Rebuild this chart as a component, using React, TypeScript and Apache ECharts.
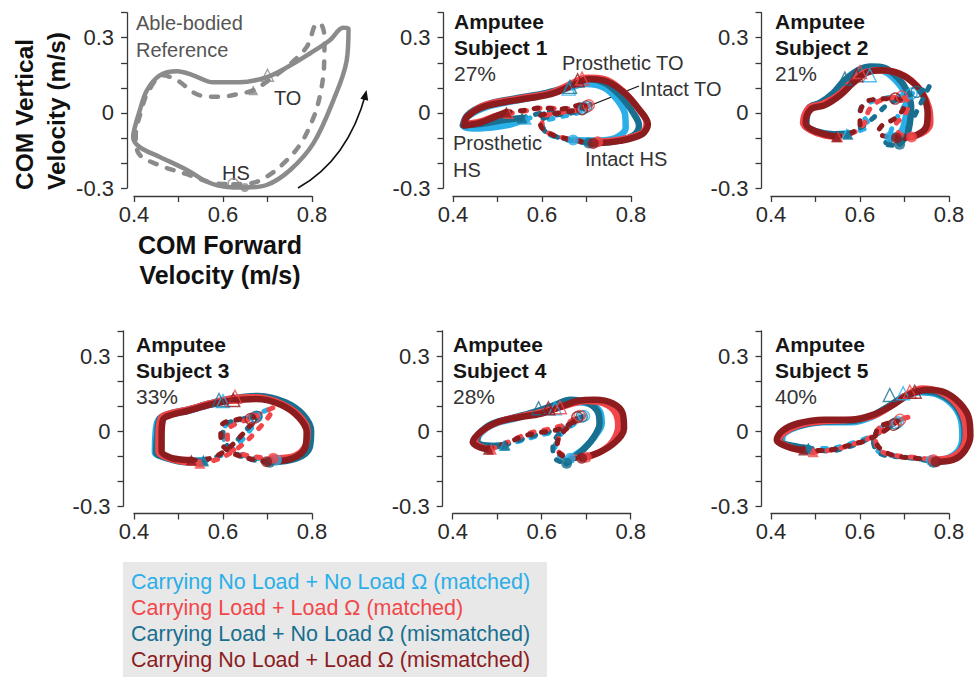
import React, { useEffect, useRef } from 'react';
import * as echarts from 'echarts';

// ---------- tick labels ----------
const xTickLabels = ['0.4', '0.6', '0.8'];
const yTickLabels = ['-0.3', '0', '0.3'];

// ---------- conditions (legend order) ----------
const conditionNames = [
  'Carrying No Load + No Load \u03A9 (matched)',
  'Carrying Load + Load \u03A9 (matched)',
  'Carrying Load + No Load \u03A9 (mismatched)',
  'Carrying No Load + Load \u03A9 (mismatched)',
];
const conditionColors = ['#2aafe8', '#f2474a', '#186f8f', '#8c1c1e'];
const drawOrder = [0, 2, 1, 3];

const subjectTitles = ['Subject 1', 'Subject 2', 'Subject 3', 'Subject 4', 'Subject 5'];
const subjectPercents = ['27%', '21%', '33%', '28%', '40%'];

// ---------- able-bodied reference ----------
const abSolid = [[0.649,-0.298],[0.698,-0.288],[0.751,-0.228],[0.803,-0.122],[0.848,0.05],[0.878,0.21],[0.882,0.336],[0.87,0.34],[0.84,0.29],[0.796,0.238],[0.744,0.182],[0.697,0.142],[0.638,0.122],[0.578,0.122],[0.533,0.15],[0.497,0.166],[0.458,0.15],[0.429,0.09],[0.413,0.01],[0.402,-0.057],[0.398,-0.097],[0.413,-0.137],[0.458,-0.176],[0.519,-0.228],[0.564,-0.275],[0.609,-0.296],[0.649,-0.298]];
const abDashed = [[0.623,-0.285],[0.668,-0.279],[0.698,-0.255],[0.736,-0.202],[0.775,-0.122],[0.804,-0.016],[0.818,0.07],[0.827,0.183],[0.828,0.3],[0.822,0.35],[0.812,0.357],[0.788,0.263],[0.743,0.183],[0.698,0.124],[0.668,0.09],[0.638,0.077],[0.593,0.064],[0.548,0.07],[0.497,0.13],[0.465,0.15],[0.432,0.085],[0.415,0.0],[0.404,-0.09],[0.41,-0.161],[0.451,-0.205],[0.519,-0.245],[0.578,-0.28],[0.623,-0.285]];
const abToOpen = [[0.7, 0.15]];
const abToFilled = [[0.668, 0.09]];
const abHsOpen = [[0.623, -0.282]];
const abHsFilled = [[0.649, -0.298]];

// ---------- subject 1 (order: LB, R, T, DR) ----------
const s1Solid = [
  [[0.67,-0.108],[0.72,-0.11],[0.765,-0.1],[0.788,-0.06],[0.787,-0.01],[0.77,0.05],[0.74,0.1],[0.7,0.115],[0.66,0.1],[0.6,0.07],[0.53,0.045],[0.47,0.02],[0.43,-0.02],[0.425,-0.055],[0.46,-0.062],[0.52,-0.05],[0.565,-0.025]],
  [[0.725,-0.115],[0.78,-0.105],[0.825,-0.08],[0.835,-0.04],[0.815,0.02],[0.78,0.09],[0.74,0.135],[0.7,0.14],[0.67,0.12],[0.62,0.08],[0.54,0.055],[0.47,0.03],[0.432,-0.015],[0.425,-0.045],[0.46,-0.035],[0.5,-0.01],[0.525,-0.003]],
  [[0.705,-0.12],[0.76,-0.115],[0.805,-0.09],[0.818,-0.05],[0.805,0.0],[0.775,0.07],[0.74,0.12],[0.7,0.135],[0.665,0.11],[0.61,0.08],[0.53,0.055],[0.47,0.03],[0.432,-0.01],[0.422,-0.05],[0.46,-0.045],[0.51,-0.03],[0.555,-0.02]],
  [[0.715,-0.122],[0.775,-0.112],[0.825,-0.085],[0.838,-0.045],[0.82,0.01],[0.785,0.08],[0.745,0.125],[0.705,0.135],[0.675,0.115],[0.62,0.075],[0.54,0.05],[0.47,0.025],[0.432,-0.015],[0.425,-0.05],[0.46,-0.04],[0.495,-0.015],[0.52,0.003]],
];
const s1Dashed = [
  [[0.565,-0.025],[0.6,-0.005],[0.64,0.0],[0.68,0.015],[0.7,0.025],[0.68,0.0],[0.63,-0.02],[0.6,-0.04],[0.61,-0.08],[0.64,-0.1],[0.67,-0.108]],
  [[0.525,-0.003],[0.57,0.01],[0.61,0.02],[0.65,0.015],[0.69,0.03],[0.71,0.035],[0.69,0.015],[0.64,0.0],[0.6,-0.02],[0.6,-0.06],[0.63,-0.09],[0.68,-0.11],[0.725,-0.115]],
  [[0.555,-0.02],[0.6,0.0],[0.64,0.01],[0.68,0.02],[0.705,0.03],[0.68,0.005],[0.63,-0.01],[0.6,-0.03],[0.605,-0.07],[0.64,-0.1],[0.68,-0.115],[0.705,-0.12]],
  [[0.52,0.003],[0.56,0.01],[0.6,0.02],[0.64,0.015],[0.68,0.03],[0.7,0.04],[0.685,0.015],[0.64,0.0],[0.595,-0.015],[0.598,-0.055],[0.62,-0.085],[0.66,-0.105],[0.715,-0.122]],
];
const s1ToProst = [[0.66,0.097],[0.69,0.137],[0.663,0.104],[0.68,0.13]];
const s1ToIntact = [[0.695,0.02],[0.705,0.03],[0.7,0.025],[0.69,0.015]];
const s1HsProst = [[0.565,-0.025],[0.525,-0.003],[0.555,-0.02],[0.52,0.003]];
const s1HsIntact = [[0.67,-0.108],[0.725,-0.115],[0.705,-0.12],[0.715,-0.122]];

// ---------- subject 2 ----------
const s2Solid = [
  [[0.667,-0.096],[0.69,-0.08],[0.7,-0.04],[0.705,0.02],[0.7,0.08],[0.68,0.13],[0.655,0.165],[0.625,0.175],[0.595,0.16],[0.57,0.12],[0.545,0.07],[0.51,0.035],[0.485,0.015],[0.48,-0.05],[0.505,-0.075],[0.54,-0.085],[0.57,-0.082]],
  [[0.716,-0.096],[0.745,-0.075],[0.758,-0.04],[0.755,0.02],[0.74,0.08],[0.715,0.13],[0.685,0.16],[0.645,0.17],[0.61,0.16],[0.58,0.12],[0.55,0.07],[0.515,0.035],[0.485,0.02],[0.472,-0.04],[0.49,-0.07],[0.52,-0.09],[0.55,-0.095]],
  [[0.689,-0.122],[0.705,-0.09],[0.712,-0.04],[0.715,0.02],[0.705,0.09],[0.685,0.14],[0.655,0.18],[0.625,0.185],[0.595,0.17],[0.565,0.13],[0.54,0.08],[0.51,0.04],[0.485,0.02],[0.475,-0.045],[0.5,-0.075],[0.54,-0.085],[0.573,-0.085]],
  [[0.682,-0.1],[0.725,-0.09],[0.75,-0.05],[0.752,0.0],[0.742,0.07],[0.72,0.12],[0.69,0.155],[0.65,0.17],[0.615,0.16],[0.585,0.12],[0.555,0.07],[0.52,0.03],[0.49,0.015],[0.478,-0.04],[0.49,-0.065],[0.52,-0.085],[0.547,-0.095]],
];
const s2Dashed = [
  [[0.57,-0.082],[0.6,-0.07],[0.62,-0.05],[0.61,-0.02],[0.6,0.01],[0.62,0.04],[0.66,0.06],[0.7,0.07],[0.718,0.078],[0.7,0.03],[0.68,-0.03],[0.67,-0.07],[0.667,-0.096]],
  [[0.55,-0.095],[0.59,-0.075],[0.61,-0.04],[0.62,0.01],[0.64,0.045],[0.67,0.06],[0.69,0.065],[0.71,0.04],[0.7,-0.01],[0.68,-0.05],[0.69,-0.085],[0.716,-0.096]],
  [[0.573,-0.085],[0.6,-0.06],[0.63,-0.02],[0.66,0.03],[0.7,0.065],[0.735,0.085],[0.757,0.11],[0.74,0.05],[0.72,-0.02],[0.7,-0.08],[0.68,-0.11],[0.65,-0.122],[0.689,-0.132]],
  [[0.547,-0.095],[0.58,-0.08],[0.6,-0.05],[0.6,-0.01],[0.61,0.04],[0.64,0.055],[0.68,0.057],[0.7,0.03],[0.68,-0.02],[0.65,-0.05],[0.64,-0.08],[0.66,-0.095],[0.682,-0.1]],
];
const s2ToProst = [[0.622,0.15],[0.6,0.163],[0.566,0.137],[0.592,0.15]];
const s2ToIntact = [[0.716,0.077],[0.694,0.065],[0.727,0.084],[0.679,0.057]];
const s2HsProst = [[0.57,-0.082],[0.55,-0.095],[0.573,-0.085],[0.547,-0.095]];
const s2HsIntact = [[0.667,-0.096],[0.716,-0.096],[0.689,-0.125],[0.682,-0.1]];

// ---------- subject 3 ----------
const s3Solid = [
  [[0.72,-0.116],[0.765,-0.1],[0.79,-0.06],[0.793,0.0],[0.775,0.06],[0.735,0.11],[0.68,0.13],[0.62,0.125],[0.57,0.105],[0.52,0.08],[0.48,0.065],[0.455,0.045],[0.448,-0.02],[0.447,-0.085],[0.47,-0.105],[0.51,-0.12],[0.556,-0.116]],
  [[0.713,-0.109],[0.76,-0.1],[0.785,-0.06],[0.79,0.0],[0.772,0.06],[0.73,0.11],[0.675,0.135],[0.62,0.13],[0.57,0.11],[0.52,0.085],[0.48,0.07],[0.46,0.05],[0.455,-0.02],[0.455,-0.08],[0.48,-0.11],[0.52,-0.125],[0.548,-0.129]],
  [[0.705,-0.125],[0.765,-0.11],[0.795,-0.065],[0.798,0.0],[0.78,0.065],[0.74,0.115],[0.68,0.14],[0.62,0.13],[0.57,0.11],[0.52,0.085],[0.48,0.07],[0.458,0.05],[0.452,-0.02],[0.45,-0.085],[0.475,-0.11],[0.52,-0.125],[0.556,-0.12]],
  [[0.698,-0.123],[0.755,-0.11],[0.785,-0.065],[0.788,-0.005],[0.77,0.055],[0.73,0.105],[0.675,0.128],[0.62,0.122],[0.57,0.105],[0.52,0.08],[0.485,0.065],[0.465,0.045],[0.462,-0.02],[0.462,-0.08],[0.48,-0.105],[0.51,-0.115],[0.529,-0.116]],
];
const s3Dashed = [
  [[0.556,-0.116],[0.6,-0.095],[0.63,-0.06],[0.655,-0.01],[0.68,0.05],[0.7,0.085],[0.68,0.07],[0.65,0.05],[0.615,0.035],[0.6,0.0],[0.61,-0.06],[0.65,-0.1],[0.72,-0.116]],
  [[0.548,-0.129],[0.585,-0.115],[0.62,-0.085],[0.65,-0.045],[0.675,0.0],[0.7,0.05],[0.715,0.095],[0.69,0.075],[0.665,0.05],[0.63,0.03],[0.61,0.0],[0.61,-0.05],[0.64,-0.09],[0.68,-0.105],[0.713,-0.109]],
  [[0.556,-0.12],[0.59,-0.1],[0.62,-0.06],[0.645,-0.01],[0.67,0.04],[0.69,0.075],[0.67,0.065],[0.64,0.045],[0.61,0.03],[0.6,-0.01],[0.61,-0.06],[0.64,-0.1],[0.68,-0.12],[0.705,-0.125]],
  [[0.529,-0.116],[0.57,-0.11],[0.6,-0.085],[0.63,-0.04],[0.655,0.01],[0.675,0.05],[0.66,0.055],[0.63,0.045],[0.6,0.03],[0.595,-0.01],[0.6,-0.06],[0.63,-0.095],[0.67,-0.115],[0.698,-0.123]],
];
const s3ToProst = [[0.6,0.12],[0.627,0.137],[0.591,0.124],[0.623,0.124]];
const s3ToIntact = [[0.672,0.055],[0.668,0.05],[0.675,0.057],[0.662,0.048]];
const s3HsProst = [[0.556,-0.116],[0.548,-0.129],[0.556,-0.12],[0.529,-0.116]];
const s3HsIntact = [[0.72,-0.116],[0.713,-0.109],[0.705,-0.125],[0.698,-0.123]];

// ---------- subject 4 ----------
const s4Solid = [
  [[0.664,-0.109],[0.695,-0.07],[0.72,-0.02],[0.735,0.03],[0.73,0.08],[0.705,0.11],[0.67,0.115],[0.635,0.1],[0.59,0.075],[0.54,0.05],[0.49,0.025],[0.462,-0.01],[0.455,-0.045],[0.49,-0.06],[0.515,-0.058]],
  [[0.7,-0.105],[0.735,-0.08],[0.76,-0.04],[0.772,0.02],[0.765,0.075],[0.74,0.11],[0.7,0.12],[0.66,0.105],[0.62,0.085],[0.57,0.065],[0.51,0.04],[0.47,0.005],[0.45,-0.04],[0.465,-0.065],[0.487,-0.073]],
  [[0.656,-0.129],[0.69,-0.08],[0.715,-0.03],[0.73,0.03],[0.725,0.08],[0.7,0.115],[0.665,0.125],[0.63,0.105],[0.59,0.08],[0.54,0.055],[0.49,0.03],[0.46,-0.01],[0.455,-0.045],[0.49,-0.06],[0.518,-0.056]],
  [[0.69,-0.109],[0.73,-0.085],[0.765,-0.045],[0.785,0.01],[0.782,0.07],[0.76,0.11],[0.72,0.125],[0.68,0.12],[0.64,0.095],[0.6,0.07],[0.55,0.055],[0.5,0.035],[0.465,0.0],[0.445,-0.045],[0.46,-0.065],[0.48,-0.073]],
];
const s4Dashed = [
  [[0.515,-0.058],[0.56,-0.035],[0.6,-0.015],[0.635,0.0],[0.665,0.035],[0.695,0.06],[0.67,0.025],[0.64,-0.02],[0.63,-0.07],[0.64,-0.1],[0.664,-0.109]],
  [[0.487,-0.073],[0.53,-0.04],[0.57,-0.01],[0.61,0.005],[0.65,0.025],[0.675,0.05],[0.685,0.06],[0.665,0.025],[0.64,-0.02],[0.635,-0.07],[0.655,-0.1],[0.7,-0.105]],
  [[0.518,-0.056],[0.56,-0.03],[0.6,-0.01],[0.64,0.01],[0.67,0.04],[0.69,0.06],[0.67,0.03],[0.64,-0.01],[0.625,-0.06],[0.63,-0.11],[0.656,-0.129]],
  [[0.48,-0.073],[0.52,-0.05],[0.56,-0.02],[0.6,-0.005],[0.635,0.005],[0.665,0.03],[0.68,0.055],[0.67,0.03],[0.645,-0.01],[0.635,-0.05],[0.64,-0.09],[0.665,-0.11],[0.69,-0.109]],
];
const s4ToProst = [[0.63,0.091],[0.641,0.095],[0.593,0.091],[0.615,0.091]];
const s4ToIntact = [[0.695,0.06],[0.685,0.06],[0.69,0.058],[0.68,0.055]];
const s4HsProst = [[0.515,-0.058],[0.487,-0.073],[0.518,-0.056],[0.48,-0.073]];
const s4HsIntact = [[0.664,-0.109],[0.7,-0.105],[0.656,-0.129],[0.69,-0.109]];

// ---------- subject 5 ----------
const s5Solid = [
  [[0.76,-0.118],[0.795,-0.11],[0.822,-0.075],[0.83,-0.02],[0.826,0.05],[0.805,0.11],[0.77,0.148],[0.735,0.155],[0.7,0.135],[0.665,0.095],[0.625,0.055],[0.58,0.035],[0.52,0.035],[0.465,0.02],[0.43,-0.01],[0.425,-0.04],[0.455,-0.065],[0.484,-0.069]],
  [[0.765,-0.115],[0.805,-0.105],[0.83,-0.07],[0.838,-0.01],[0.832,0.06],[0.81,0.12],[0.775,0.16],[0.74,0.17],[0.71,0.15],[0.67,0.1],[0.63,0.06],[0.58,0.045],[0.52,0.04],[0.465,0.025],[0.43,-0.005],[0.418,-0.035],[0.45,-0.07],[0.495,-0.083]],
  [[0.765,-0.125],[0.8,-0.115],[0.825,-0.08],[0.835,-0.02],[0.83,0.05],[0.81,0.11],[0.775,0.15],[0.735,0.16],[0.7,0.14],[0.665,0.1],[0.625,0.06],[0.58,0.04],[0.52,0.038],[0.46,0.02],[0.425,-0.01],[0.42,-0.04],[0.45,-0.06],[0.484,-0.069]],
  [[0.771,-0.123],[0.81,-0.115],[0.835,-0.08],[0.848,-0.02],[0.845,0.05],[0.825,0.11],[0.79,0.155],[0.75,0.165],[0.71,0.145],[0.67,0.1],[0.63,0.065],[0.58,0.045],[0.52,0.045],[0.46,0.03],[0.425,0.0],[0.413,-0.035],[0.44,-0.065],[0.473,-0.076]],
];
const s5Dashed = [
  [[0.484,-0.069],[0.53,-0.07],[0.58,-0.05],[0.62,-0.025],[0.655,0.01],[0.685,0.035],[0.665,0.025],[0.64,0.005],[0.63,-0.03],[0.64,-0.08],[0.68,-0.1],[0.73,-0.11],[0.76,-0.118]],
  [[0.495,-0.083],[0.54,-0.075],[0.59,-0.05],[0.63,-0.02],[0.665,0.02],[0.69,0.045],[0.715,0.058],[0.68,0.04],[0.645,0.015],[0.635,-0.02],[0.64,-0.07],[0.67,-0.095],[0.72,-0.105],[0.765,-0.115]],
  [[0.484,-0.069],[0.53,-0.08],[0.58,-0.06],[0.62,-0.03],[0.655,0.005],[0.68,0.03],[0.66,0.02],[0.64,0.0],[0.63,-0.04],[0.645,-0.09],[0.7,-0.105],[0.74,-0.115],[0.765,-0.125]],
  [[0.473,-0.076],[0.52,-0.078],[0.57,-0.06],[0.61,-0.04],[0.645,-0.01],[0.675,0.025],[0.685,0.04],[0.66,0.03],[0.64,0.01],[0.635,-0.03],[0.645,-0.07],[0.68,-0.1],[0.73,-0.11],[0.771,-0.123]],
];
const s5ToProst = [[0.697,0.151],[0.712,0.157],[0.667,0.144],[0.723,0.157]];
const s5ToIntact = [[0.685,0.035],[0.69,0.045],[0.68,0.03],[0.675,0.025]];
const s5HsProst = [[0.484,-0.069],[0.495,-0.083],[0.484,-0.069],[0.473,-0.076]];
const s5HsIntact = [[0.76,-0.118],[0.765,-0.115],[0.765,-0.125],[0.771,-0.123]];

const subjects = [
  { solid: s1Solid, dashed: s1Dashed, toP: s1ToProst, toI: s1ToIntact, hsP: s1HsProst, hsI: s1HsIntact },
  { solid: s2Solid, dashed: s2Dashed, toP: s2ToProst, toI: s2ToIntact, hsP: s2HsProst, hsI: s2HsIntact },
  { solid: s3Solid, dashed: s3Dashed, toP: s3ToProst, toI: s3ToIntact, hsP: s3HsProst, hsI: s3HsIntact },
  { solid: s4Solid, dashed: s4Dashed, toP: s4ToProst, toI: s4ToIntact, hsP: s4HsProst, hsI: s4HsIntact },
  { solid: s5Solid, dashed: s5Dashed, toP: s5ToProst, toI: s5ToIntact, hsP: s5HsProst, hsI: s5HsIntact },
];

const FONT = '"Liberation Sans", Arial, Helvetica, sans-serif';
const GRAY = '#8b8b8b';
const AXIS = '#3a3a3a';
const PXU_X = 445; // px per unit on x (178 px for 0.4)

const panels = [
  { left: 134, top: 12.7, height: 175.3, yOff: 7, xOff: 8, dataXMax: 0.9 },
  { left: 453, top: 12.7, height: 175.3, yOff: 9.5, xOff: 8, dataXMax: 0.9 },
  { left: 771, top: 12.7, height: 175.3, yOff: 9.5, xOff: 8, dataXMax: 0.85 },
  { left: 134, top: 331, height: 175, yOff: 10.5, xOff: 7.5, dataXMax: 0.9 },
  { left: 452.7, top: 331, height: 175, yOff: 10, xOff: 7.5, dataXMax: 0.9 },
  { left: 771, top: 331, height: 175, yOff: 9.5, xOff: 7.5, dataXMax: 0.85 },
];
const DATA_XMIN = 0.35;
const DATA_YMIN = -0.35;
const DATA_YMAX = 0.4;

function fmt(v: number, list: string[]) {
  const s = String(Math.round(v * 10) / 10);
  const t = s === '-0' ? '0' : s;
  return list.includes(t) ? t : '';
}

function buildOption() {
  const grid: any[] = [];
  const xAxis: any[] = [];
  const yAxis: any[] = [];
  const series: any[] = [];
  const N = panels.length;

  panels.forEach((p, i) => {
    grid.push({ left: p.left, top: p.top, width: 178, height: p.height, containLabel: false });
    xAxis.push({
      type: 'value', gridIndex: i, min: 0.4, max: 0.8, interval: 0.1, offset: p.xOff,
      axisLine: { show: true, onZero: false, lineStyle: { color: AXIS, width: 1.3 } },
      axisTick: { show: true, inside: false, length: 6, lineStyle: { color: AXIS, width: 1.3 } },
      splitLine: { show: false },
      axisLabel: { margin: 7, fontSize: 22, color: '#2a2a2a', fontFamily: FONT, formatter: (v: number) => fmt(v, xTickLabels) },
    });
    yAxis.push({
      type: 'value', gridIndex: i, min: -0.3, max: 0.4, interval: 0.1, offset: p.yOff,
      axisLine: { show: true, onZero: false, lineStyle: { color: AXIS, width: 1.3 } },
      axisTick: { show: true, inside: false, length: 6, lineStyle: { color: AXIS, width: 1.3 } },
      splitLine: { show: false },
      axisLabel: { margin: 13, fontSize: 22, color: '#2a2a2a', fontFamily: FONT, formatter: (v: number) => fmt(v, yTickLabels) },
    });
  });
  // hidden data grids with identical scale but a wider extent (nothing gets clipped)
  panels.forEach((p, i) => {
    const pyu = p.height / 0.7;
    grid.push({
      left: p.left - (0.4 - DATA_XMIN) * PXU_X,
      top: p.top - (DATA_YMAX - 0.4) * pyu,
      width: (p.dataXMax - DATA_XMIN) * PXU_X,
      height: (DATA_YMAX - DATA_YMIN) * pyu,
      containLabel: false,
    });
    xAxis.push({ type: 'value', gridIndex: N + i, min: DATA_XMIN, max: p.dataXMax, show: false, splitLine: { show: false } });
    yAxis.push({ type: 'value', gridIndex: N + i, min: DATA_YMIN, max: DATA_YMAX, show: false, splitLine: { show: false } });
  });

  const lineS = (gi: number, data: number[][], color: string, dashed: boolean, width: number, dash: number[]) => ({
    type: 'line', xAxisIndex: N + gi, yAxisIndex: N + gi, data, smooth: 0.35, showSymbol: false, symbol: 'none', clip: false,
    lineStyle: { color, width, type: dashed ? dash : 'solid', cap: 'round', join: 'round' },
    silent: true, z: 2,
  });
  const markS = (gi: number, data: number[][], color: string, symbol: string, size: number, hollow: boolean) => ({
    type: 'scatter', xAxisIndex: N + gi, yAxisIndex: N + gi, data, symbol, symbolSize: size, clip: false,
    itemStyle: hollow ? { color: 'rgba(0,0,0,0)', borderColor: color, borderWidth: 1.4 } : { color },
    silent: true, z: 3,
  });

  series.push(lineS(0, abSolid, GRAY, false, 4.5, []));
  series.push(lineS(0, abDashed, GRAY, true, 4.5, [7, 11]));
  series.push(markS(0, abToOpen, GRAY, 'triangle', 12, true));
  series.push(markS(0, abToFilled, GRAY, 'triangle', 10, false));
  series.push(markS(0, abHsOpen, GRAY, 'circle', 10, true));
  series.push(markS(0, abHsFilled, GRAY, 'circle', 9, false));

  subjects.forEach((s, k) => {
    const gi = k + 1;
    drawOrder.forEach((c) => {
      series.push(lineS(gi, s.solid[c], conditionColors[c], false, 6.5, []));
    });
    drawOrder.forEach((c) => {
      series.push(lineS(gi, s.dashed[c], conditionColors[c], true, 5, [4, 10]));
    });
    drawOrder.forEach((c) => {
      series.push(markS(gi, [s.hsI[c]], conditionColors[c], 'circle', 11, false));
      series.push(markS(gi, [s.hsP[c]], conditionColors[c], 'triangle', 11, false));
      series.push(markS(gi, [s.toP[c]], conditionColors[c], 'triangle', 13, true));
      series.push(markS(gi, [s.toI[c]], conditionColors[c], 'circle', 11, true));
    });
  });

  const txt = (x: number, y: number, text: string, opts: any = {}) => ({
    type: 'text', x, y, silent: true,
    style: { text, fontSize: 20, fontFamily: FONT, fill: '#333', textAlign: 'left', textVerticalAlign: 'top', lineHeight: 26, ...opts },
  });

  const graphic: any[] = [];
  graphic.push(txt(136, 9, 'Able-bodied\nReference', { fill: '#555', lineHeight: 27 }));
  graphic.push(txt(274, 85, 'TO', { fill: '#333' }));
  graphic.push(txt(222, 160, 'HS', { fill: '#333' }));
  graphic.push({ type: 'bezierCurve', silent: true, shape: { x1: 298, y1: 188, x2: 366, y2: 93, cpx1: 348, cpy1: 160 }, style: { stroke: '#111', lineWidth: 1.6, fill: 'none' } });
  graphic.push({ type: 'polygon', silent: true, shape: { points: [[366.5, 90], [368.2, 100.7], [360.4, 98.7]] }, style: { fill: '#111' } });
  graphic.push({ type: 'text', x: 8, y: 190, rotation: Math.PI / 2, silent: true,
    style: { text: 'COM Vertical\nVelocity (m/s)', fontSize: 24.5, fontWeight: 'bold', fontFamily: FONT, fill: '#111', textAlign: 'left', textVerticalAlign: 'top', lineHeight: 32 } });
  graphic.push({ type: 'text', x: 220, y: 230, silent: true,
    style: { text: 'COM Forward\nVelocity (m/s)', fontSize: 25, fontWeight: 'bold', fontFamily: FONT, fill: '#111', textAlign: 'center', textVerticalAlign: 'top', lineHeight: 30 } });

  const titlePos = [[454, 8], [775, 8], [136, 331], [453, 331], [775, 331]];
  subjects.forEach((_, k) => {
    const [x, y] = titlePos[k];
    graphic.push(txt(x, y, 'Amputee\n' + subjectTitles[k], { fill: '#151515', fontSize: 21, fontWeight: 'bold', lineHeight: 26 }));
    graphic.push(txt(x, y + 52, subjectPercents[k], { fill: '#333', fontSize: 21, lineHeight: 26 }));
  });

  graphic.push(txt(562, 50, 'Prosthetic TO'));
  graphic.push(txt(640, 76, 'Intact TO'));
  graphic.push({ type: 'line', silent: true, shape: { x1: 639, y1: 86, x2: 589, y2: 106 }, style: { stroke: '#111', lineWidth: 1.3 } });
  graphic.push(txt(453, 129, 'Prosthetic\nHS', { lineHeight: 27 }));
  graphic.push(txt(585, 146, 'Intact HS'));

  graphic.push({ type: 'rect', silent: true, shape: { x: 123, y: 562, width: 424, height: 115 }, style: { fill: '#e8e8e8' } });
  const legY = [582, 608, 634, 660];
  conditionNames.forEach((n, c) => {
    graphic.push({ type: 'text', x: 131, y: legY[c], silent: true,
      style: { text: n, fontSize: 21.5, fontFamily: FONT, fill: conditionColors[c], textAlign: 'left', textVerticalAlign: 'middle' } });
  });

  return { animation: false, backgroundColor: '#ffffff', grid, xAxis, yAxis, series, graphic };
}

export default function App() {
  const ref = useRef<HTMLDivElement>(null);
  useEffect(() => {
    if (!ref.current) return;
    const chart = echarts.init(ref.current, undefined, { renderer: 'svg' });
    chart.setOption(buildOption() as any);
    return () => chart.dispose();
  }, []);
  return <div ref={ref} style={{ position: 'fixed', left: 0, top: 0, width: 974, height: 677, background: '#fff' }} />;
}
